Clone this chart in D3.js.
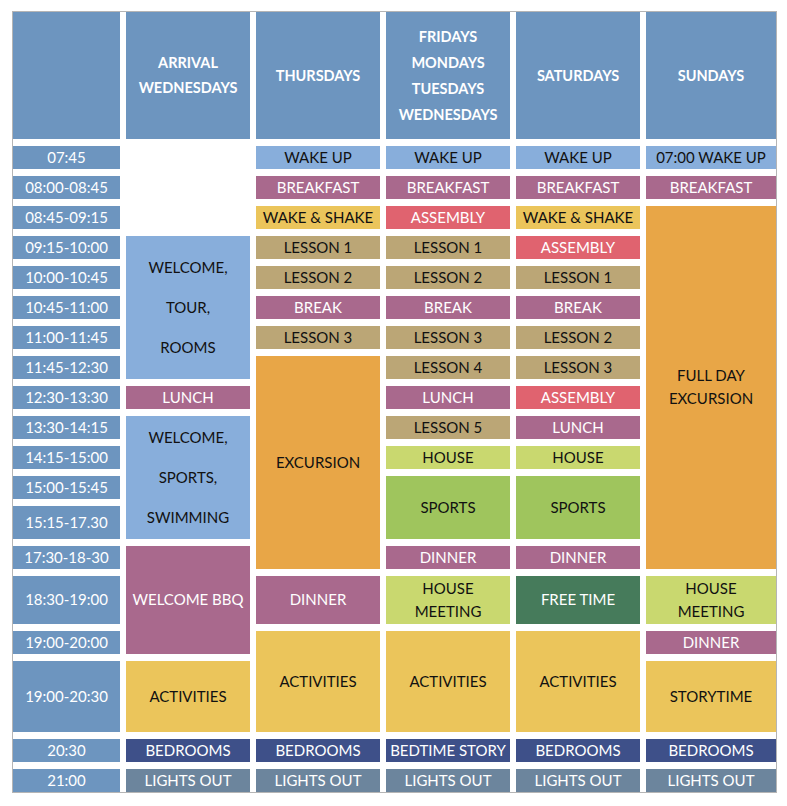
<!DOCTYPE html>
<html>
<head>
<meta charset="utf-8">
<script src="https://cdn.jsdelivr.net/npm/d3@7"></script>
<style>
  body { margin: 0; background: #fff; font-family: Lato, "Open Sans", sans-serif; }
</style>
</head>
<body>
<svg id="chart" width="787" height="806"></svg>
<script>
// data
const columns = ["", "ARRIVAL\nWEDNESDAYS", "THURSDAYS", "FRIDAYS\nMONDAYS\nTUESDAYS\nWEDNESDAYS", "SATURDAYS", "SUNDAYS"];
const times = ["07:45", "08:00-08:45", "08:45-09:15", "09:15-10:00", "10:00-10:45", "10:45-11:00",
  "11:00-11:45", "11:45-12:30", "12:30-13:30", "13:30-14:15", "14:15-15:00", "15:00-15:45",
  "15:15-17.30", "17:30-18-30", "18:30-19:00", "19:00-20:00", "19:00-20:30", "20:30", "21:00"];

// [label, first row, last row, kind]
const arrival = [
  ["WELCOME,\nTOUR,\nROOMS", 3, 7, "welcome"], ["LUNCH", 8, 8, "meal"],
  ["WELCOME,\nSPORTS,\nSWIMMING", 9, 12, "welcome"], ["WELCOME BBQ", 13, 15, "meal"],
  ["ACTIVITIES", 16, 16, "activity"], ["BEDROOMS", 17, 17, "bed"], ["LIGHTS OUT", 18, 18, "lights"]];
const thursdays = [
  ["WAKE UP", 0, 0, "welcome"], ["BREAKFAST", 1, 1, "meal"], ["WAKE & SHAKE", 2, 2, "activity"],
  ["LESSON 1", 3, 3, "lesson"], ["LESSON 2", 4, 4, "lesson"], ["BREAK", 5, 5, "meal"],
  ["LESSON 3", 6, 6, "lesson"], ["EXCURSION", 7, 13, "excursion"], ["DINNER", 14, 14, "meal"],
  ["ACTIVITIES", 15, 16, "activity"], ["BEDROOMS", 17, 17, "bed"], ["LIGHTS OUT", 18, 18, "lights"]];
const weekdays = [
  ["WAKE UP", 0, 0, "welcome"], ["BREAKFAST", 1, 1, "meal"], ["ASSEMBLY", 2, 2, "assembly"],
  ["LESSON 1", 3, 3, "lesson"], ["LESSON 2", 4, 4, "lesson"], ["BREAK", 5, 5, "meal"],
  ["LESSON 3", 6, 6, "lesson"], ["LESSON 4", 7, 7, "lesson"], ["LUNCH", 8, 8, "meal"],
  ["LESSON 5", 9, 9, "lesson"], ["HOUSE", 10, 10, "house"], ["SPORTS", 11, 12, "sports"],
  ["DINNER", 13, 13, "meal"], ["HOUSE\nMEETING", 14, 14, "house"], ["ACTIVITIES", 15, 16, "activity"],
  ["BEDTIME STORY", 17, 17, "bed"], ["LIGHTS OUT", 18, 18, "lights"]];
const saturdays = [
  ["WAKE UP", 0, 0, "welcome"], ["BREAKFAST", 1, 1, "meal"], ["WAKE & SHAKE", 2, 2, "activity"],
  ["ASSEMBLY", 3, 3, "assembly"], ["LESSON 1", 4, 4, "lesson"], ["BREAK", 5, 5, "meal"],
  ["LESSON 2", 6, 6, "lesson"], ["LESSON 3", 7, 7, "lesson"], ["ASSEMBLY", 8, 8, "assembly"],
  ["LUNCH", 9, 9, "meal"], ["HOUSE", 10, 10, "house"], ["SPORTS", 11, 12, "sports"],
  ["DINNER", 13, 13, "meal"], ["FREE TIME", 14, 14, "free"], ["ACTIVITIES", 15, 16, "activity"],
  ["BEDROOMS", 17, 17, "bed"], ["LIGHTS OUT", 18, 18, "lights"]];
const sundays = [
  ["07:00 WAKE UP", 0, 0, "welcome"], ["BREAKFAST", 1, 1, "meal"], ["FULL DAY\nEXCURSION", 2, 13, "excursion"],
  ["HOUSE\nMEETING", 14, 14, "house"], ["DINNER", 15, 15, "meal"], ["STORYTIME", 16, 16, "activity"],
  ["BEDROOMS", 17, 17, "bed"], ["LIGHTS OUT", 18, 18, "lights"]];
const schedule = [arrival, thursdays, weekdays, saturdays, sundays];

const kinds = ["header", "welcome", "meal", "activity", "lesson", "assembly", "excursion", "house", "sports", "free", "bed", "lights"];
const fills = ["#6d95bf", "#88aedb", "#a9698d", "#ebc55b", "#bba676", "#e0636f", "#e8a647", "#c9d86f", "#9fc55d", "#467b5b", "#3e5089", "#6c859d"];
const whiteText = new Set(["header", "meal", "assembly", "free", "bed", "lights"]);

// layout
const colWidths = [107, 124, 124, 124, 124, 130];
const rowHeights = [23, 23, 23, 23, 23, 23, 23, 23, 23, 23, 23, 23, 33, 23, 48, 23, 71, 23, 23];
const gap = 6, rowGap = 7, left = 13, headerTop = 12, headerH = 127, bodyTop = 146;

const colX = d3.cumsum([left, ...colWidths.map(w => w + gap)]);
const rowY = d3.cumsum([bodyTop, ...rowHeights.map(h => h + rowGap)]);
const color = d3.scaleOrdinal().domain(kinds).range(fills);

const svg = d3.select("#chart");
svg.append("rect").attr("x", left - 0.5).attr("y", headerTop - 0.5)
  .attr("width", colX[6] - gap - left + 1).attr("height", rowY[19] - rowGap - headerTop + 1)
  .attr("fill", "none").attr("stroke", "#b5b5b5");

function cell(x, y, w, h, label, kind, bold, spacing) {
  const g = svg.append("g");
  g.append("rect").attr("x", x).attr("y", y).attr("width", w).attr("height", h).attr("fill", color(kind));
  const lines = label.split("\n");
  const sp = spacing || (lines.length == 3 && h > 100 ? 40 : 23);
  g.selectAll("text").data(lines).join("text")
    .attr("x", x + w / 2)
    .attr("y", (d, i) => y + h / 2 + (i - (lines.length - 1) / 2) * sp)
    .attr("dy", "0.36em").attr("text-anchor", "middle")
    .attr("font-size", bold ? 14.5 : 15).attr("font-weight", bold ? 700 : 400)
    .attr("fill", whiteText.has(kind) ? "#fff" : "#111")
    .text(d => d);
}

columns.forEach((c, i) => cell(colX[i], headerTop, colWidths[i], headerH, c, "header", true, i == 3 ? 26 : 25));
times.forEach((t, r) => cell(colX[0], rowY[r], colWidths[0], rowHeights[r], t, "header", false));
schedule.forEach((col, ci) => {
  col.forEach(([label, a, b, kind]) => {
    const y0 = rowY[a], y1 = rowY[b] + rowHeights[b];
    cell(colX[ci + 1], y0, colWidths[ci + 1], y1 - y0, label, kind, false);
  });
});
</script>
</body>
</html>
